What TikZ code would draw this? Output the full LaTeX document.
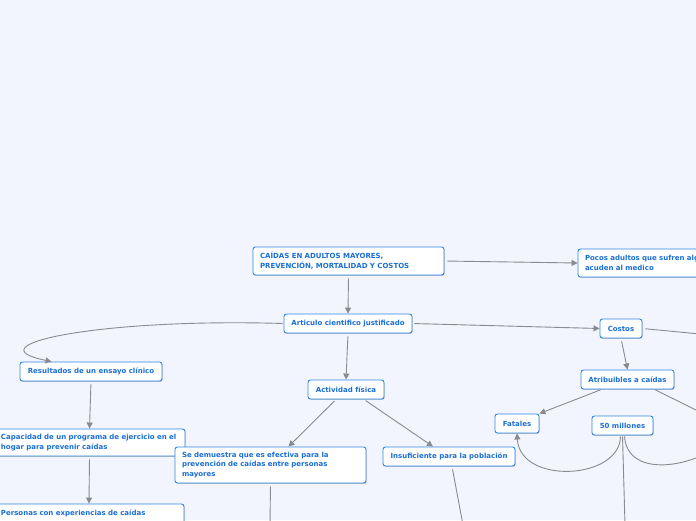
\documentclass[tikz,border=0pt]{standalone}
\usepackage{fontspec}
\setmainfont{DejaVu Sans}
\usetikzlibrary{arrows.meta,calc,shadows}
\definecolor{bg}{HTML}{F2F5FD}
\definecolor{bord}{HTML}{2E86E6}
\definecolor{txt}{HTML}{1A6FD6}
\definecolor{ln}{HTML}{8A8A90}
\begin{document}
\begin{tikzpicture}[x=1pt,y=-1pt,
  box/.style={draw=bord, line width=0.9pt, fill=white, rounded corners=2.5pt, text=txt,
    font=\fontsize{7}{9.8}\selectfont\bfseries, inner xsep=7pt, inner ysep=3pt,
    minimum height=19pt,
    drop shadow={shadow xshift=0.6pt,shadow yshift=-0.9pt,opacity=0.22,fill=black}},
  mbox/.style={box, align=left},
  conn/.style={draw=ln, line width=0.9pt},
  arr/.style={conn, -{Triangle[length=6pt,width=6pt]}},
]
\fill[bg] (0,0) rectangle (696,520);
\useasboundingbox (0,0) rectangle (696,520);

\node[mbox, minimum width=191pt, minimum height=28pt, text width=177pt] (root) at (348.5,261) {CAÍDAS EN ADULTOS MAYORES,\\PREVENCIÓN, MORTALIDAD Y COSTOS};
\node[mbox, minimum width=150pt, minimum height=28pt, text width=136pt] (pocos) at (653,263) {Pocos adultos que sufren algún\\acuden al medico};
\node[box, minimum width=128pt, inner xsep=2pt] (art) at (348,323.5) {Articulo cientifico justificado};
\node[box, minimum width=42pt, inner xsep=2pt] (cost) at (621,328.5) {Costos};
\node[box, minimum width=142pt, inner xsep=2pt] (res) at (91,371.5) {Resultados de un ensayo clínico};
\node[box, minimum width=76pt, inner xsep=2pt] (act) at (346,389.5) {Actividad física};
\node[box, minimum width=93pt, inner xsep=2pt] (atr) at (627.5,379.5) {Atribuibles a caídas};
\node[box, minimum width=44pt, inner xsep=2pt] (fat) at (517,423.5) {Fatales};
\node[box, minimum width=61pt, inner xsep=2pt] (mil) at (622.5,425.5) {50 millones};
\node[mbox, minimum width=191pt, minimum height=27pt, text width=177pt] (cap) at (89.5,442.5) {Capacidad de un programa de ejercicio en el\\hogar para prevenir caídas};
\node[mbox, minimum width=191pt, minimum height=36pt, text width=177pt] (se) at (270.5,465) {Se demuestra que es efectiva para la\\prevención de caídas entre personas\\mayores};
\node[box, minimum width=132pt, inner xsep=2pt] (ins) at (449,456.5) {Insuficiente para la población};
\node[mbox, minimum width=190pt, minimum height=28pt, text width=176pt] (per) at (89,518) {Personas con experiencias de caídas\\\mbox{}};

\coordinate (c1) at (700,334);
\coordinate (c2) at (702,413);
\coordinate (c3) at (270,525);
\coordinate (c4) at (463,525);
\coordinate (c5) at (625,525);
\coordinate (c6) at (740,430);

\draw[arr, shorten <=3pt] (root.east) -- (pocos.west);
\draw[arr, shorten <=3pt] (root.south) -- (art.north);
\draw[arr, shorten <=2pt] (art.east) -- (cost.west);
\draw[conn, shorten <=3pt] (cost.east) -- (c1);
\draw[arr, shorten <=1pt] (art.west) .. controls (100,318) and (-30,345) .. ($(res.north west)+(32,0)$);
\draw[arr, shorten <=3pt] (art.south) -- (act.north);
\draw[arr, shorten <=3pt] (cost.south) -- (atr.north);
\draw[arr, shorten <=1pt] ($(atr.south)+(-26,0)$) -- (fat.north east);
\draw[conn, shorten <=1pt] ($(atr.south)+(27,0)$) -- (c2);
\draw[arr, shorten <=3pt] (res.south) -- (cap.north);
\draw[arr, shorten <=2pt] ($(act.south)+(-10,0)$) -- ($(se.north)+(18,0)$);
\draw[arr, shorten <=2pt] ($(act.south)+(18,0)$) -- ($(ins.north)+(-16,0)$);
\draw[arr, shorten <=3pt] (cap.south) -- (per.north);
\draw[conn, shorten <=3pt] (se.south) -- (c3);
\draw[conn, shorten <=3pt] ($(ins.south)+(3,0)$) -- (c4);
\draw[arr, shorten <=1pt] ($(mil.south)+(-2,0)$) .. controls (620,480) and (520,485) .. (fat.south);
\draw[conn, shorten <=1pt] ($(mil.south)+(2,0)$) .. controls (627,480) and (700,470) .. (c6);
\draw[conn, shorten <=1pt] ($(mil.south)+(0,0)$) -- (c5);
\end{tikzpicture}
\end{document}
